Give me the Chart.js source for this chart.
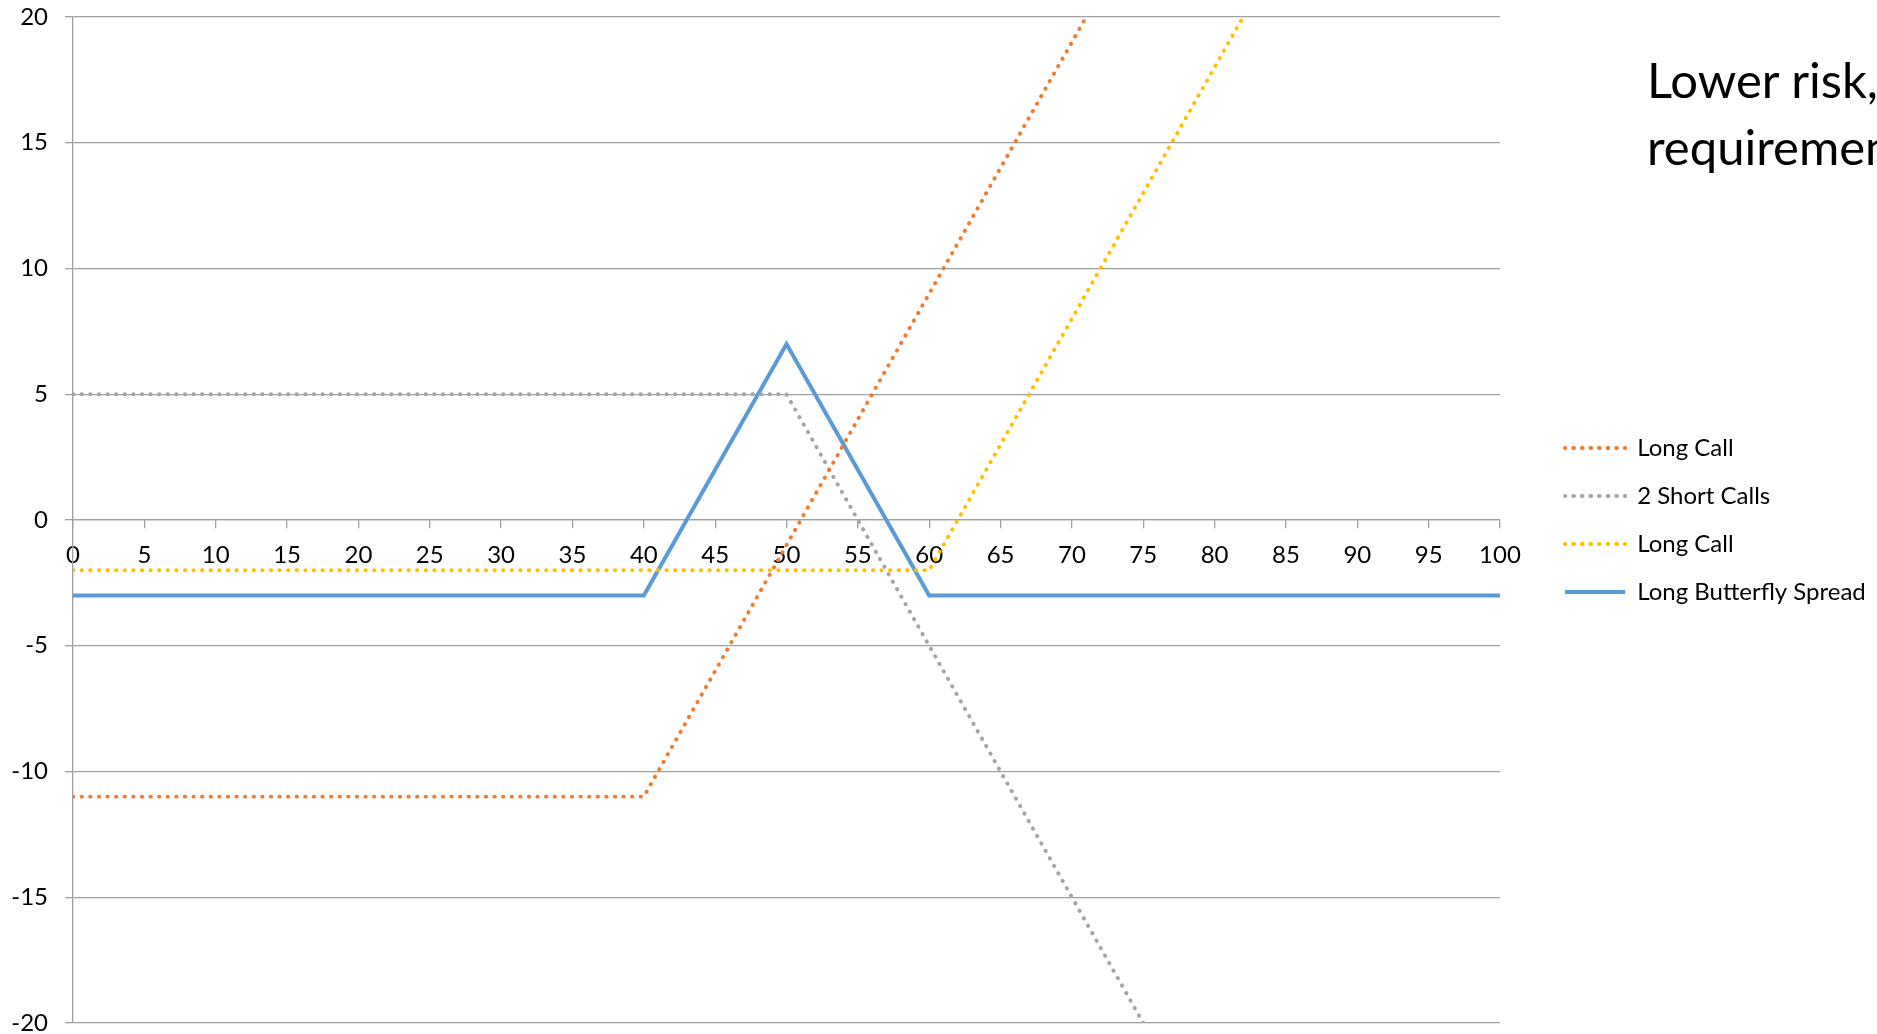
<!DOCTYPE html>
<html>
<head>
<meta charset="utf-8">
<title>Long Butterfly Spread</title>
<script src="https://cdn.jsdelivr.net/npm/chart.js@4/dist/chart.umd.min.js"></script>
<style>
  html, body { margin: 0; padding: 0; background: #fff; overflow: hidden; }
  #wrap { position: relative; width: 1877px; height: 1034px; overflow: hidden; }
  #payoff { position: absolute; left: 0; top: 0; }
  #headline {
    position: absolute; left: 1647px; top: 46px;
    font-family: Lato, sans-serif; font-size: 49px; line-height: 67px;
    color: #000; white-space: nowrap;
  }
</style>
</head>
<body>
<div id="wrap">
  <canvas id="payoff" width="1877" height="1034"></canvas>
  <div id="headline">Lower risk,<br>requirement</div>
</div>
<script>
// Payoff at expiry against the underlying price
const seriesNames = ['Long Call', '2 Short Calls', 'Long Call', 'Long Butterfly Spread'];

const longCallLowX = [0, 40, 71];
const longCallLowY = [-11, -11, 20];

const shortCallsX = [0, 50, 75];
const shortCallsY = [5, 5, -20];

const longCallHighX = [0, 60, 82];
const longCallHighY = [-2, -2, 20];

const butterflyX = [0, 40, 50, 60, 100];
const butterflyY = [-3, -3, 7, -3, -3];

const priceAxis = { min: 0, max: 100, step: 5 };
const payoffAxis = { min: -20, max: 20, step: 5 };

const colors = ['#ED7D31', '#A5A5A5', '#FFC000', '#5B9BD5'];

const toPoints = (xs, ys) => xs.map((x, i) => ({ x: x, y: ys[i] }));

// round dots: a very short dash with round caps, then a gap
const dotted = (label, xs, ys, color) => ({
  label: label,
  data: toPoints(xs, ys),
  borderColor: color,
  backgroundColor: color,
  borderWidth: 3.9,
  borderDash: [0.4, 8.2],
  borderCapStyle: 'round',
  pointRadius: 0,
  tension: 0,
  fill: false
});

const gridGray = '#A0A0A0';

Chart.defaults.font.family = 'Lato, sans-serif';
Chart.defaults.font.size = 24;
Chart.defaults.color = '#000';

// Place the legend a fixed gap to the right of the plot area
const legendGap = {
  id: 'legendGap',
  afterLayout(chart) {
    const lg = chart.legend;
    if (!lg) return;
    lg.left = chart.chartArea.right + 41;
    lg.right = chart.width;
  }
};

new Chart(document.getElementById('payoff'), {
  type: 'line',
  data: {
    datasets: [
      dotted(seriesNames[0], longCallLowX, longCallLowY, colors[0]),
      dotted(seriesNames[1], shortCallsX, shortCallsY, colors[1]),
      dotted(seriesNames[2], longCallHighX, longCallHighY, colors[2]),
      {
        label: seriesNames[3],
        data: toPoints(butterflyX, butterflyY),
        borderColor: colors[3],
        backgroundColor: colors[3],
        borderWidth: 4,
        borderCapStyle: 'round',
        borderJoinStyle: 'miter',
        pointRadius: 0,
        tension: 0,
        fill: false
      }
    ]
  },
  options: {
    responsive: false,
    animation: false,
    devicePixelRatio: 1,
    layout: { padding: { left: 0, right: 77, top: 17, bottom: 11 } },
    plugins: {
      tooltip: { enabled: false },
      title: { display: false },
      legend: {
        position: 'right',
        align: 'center',
        maxWidth: 300,
        labels: {
          boxWidth: 60.2,
          boxHeight: 0,
          padding: 24,
          color: '#000',
          font: { size: 24 }
        }
      }
    },
    scales: {
      x: {
        type: 'linear',
        position: { y: 0 },
        min: priceAxis.min,
        max: priceAxis.max,
        ticks: {
          stepSize: priceAxis.step,
          padding: 13,
          maxRotation: 0,
          autoSkip: false,
          font: { size: 24, lineHeight: 1.2 },
          color: '#000'
        },
        grid: {
          display: true,
          drawOnChartArea: false,
          drawTicks: true,
          tickLength: 8,
          color: gridGray,
          lineWidth: 1.3
        },
        border: { display: true, color: gridGray, width: 1.3 }
      },
      y: {
        type: 'linear',
        position: 'left',
        min: payoffAxis.min,
        max: payoffAxis.max,
        afterFit(scale) {
          scale.width = 73;
          scale.paddingTop = 0;
          scale.paddingBottom = 0;
        },
        ticks: {
          stepSize: payoffAxis.step,
          padding: 17,
          font: { size: 24, lineHeight: 0.8 },
          color: '#000'
        },
        grid: {
          display: true,
          drawTicks: true,
          tickLength: 8,
          color: gridGray,
          lineWidth: 1.3
        },
        border: { display: true, color: gridGray, width: 1.3 }
      }
    }
  },
  plugins: [legendGap]
});
</script>
</body>
</html>
